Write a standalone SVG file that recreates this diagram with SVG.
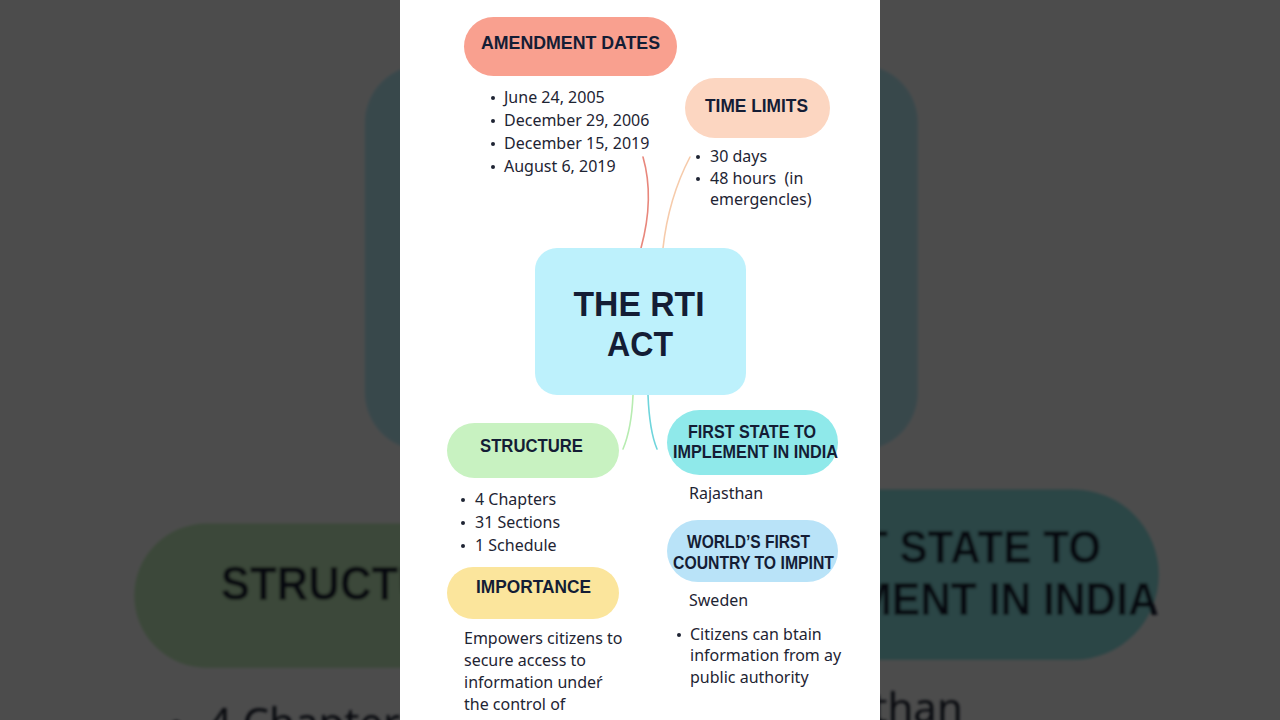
<svg xmlns="http://www.w3.org/2000/svg" xmlns:xlink="http://www.w3.org/1999/xlink" width="1280" height="720" viewBox="0 0 1280 720">
  <defs>
    <style>
      .ttl { font-family: "Liberation Sans", Arial, sans-serif; font-weight: 700; fill: #141d35; text-anchor: middle; }
      .t18 { font-size: 18.5px; }
      .t17 { font-size: 17.5px; }
      .big { font-size: 35.5px; }
      .body { font-family: "Noto Sans", "Liberation Sans", sans-serif; font-size: 16px; fill: #1e2433; }
      .dot { fill: #1e2433; }
      .con { fill: none; stroke-width: 1.6; stroke-linecap: round; }
    </style>
    <filter id="soft" x="-10%" y="-10%" width="120%" height="120%">
      <feGaussianBlur stdDeviation="0.7"/>
    </filter>
  </defs>

  <!-- blurred, dimmed enlarged backdrop -->
  <rect x="0" y="0" width="1280" height="720" fill="#ffffff"/>
  <use xlink:href="#diagram" href="#diagram" transform="translate(-1036.8,-584.7) scale(2.62)" filter="url(#soft)"/>
  <rect x="0" y="0" width="1280" height="720" fill="#000000" opacity="0.7"/>

  <!-- panel -->
  <rect x="400" y="0" width="480" height="720" fill="#ffffff"/>

  <g id="diagram">
    <g id="connectors">
      <path class="con" d="M643,157 C651,185 650,215 641,248" stroke="#e8877c"/>
      <path class="con" d="M690,157 C678,180 667,212 663,248" stroke="#f6cbab"/>
      <path class="con" d="M633,395 C632,420 628,437 623,449" stroke="#b7ecb1"/>
      <path class="con" d="M648,395 C649,420 652,437 657,449" stroke="#6fd5dc"/>
    </g>

    <g id="node-center">
      <rect x="535" y="248" width="211" height="147" rx="22" fill="#bdf1fc"/>
      <text class="ttl big" x="639" y="316" textLength="131" lengthAdjust="spacingAndGlyphs">THE RTI</text>
      <text class="ttl big" x="640" y="356" textLength="66" lengthAdjust="spacingAndGlyphs">ACT</text>
    </g>

    <g id="node-amendment">
      <rect x="464" y="17" width="213" height="59" rx="29.5" fill="#f9a08f"/>
      <text class="ttl t18" x="570.5" y="48.5" textLength="179" lengthAdjust="spacingAndGlyphs">AMENDMENT DATES</text>
      <circle class="dot" cx="493" cy="98" r="2"/>
      <circle class="dot" cx="493" cy="121" r="2"/>
      <circle class="dot" cx="493" cy="144" r="2"/>
      <circle class="dot" cx="493" cy="167" r="2"/>
      <text class="body" x="504" y="103">June 24, 2005</text>
      <text class="body" x="504" y="126">December 29, 2006</text>
      <text class="body" x="504" y="149">December 15, 2019</text>
      <text class="body" x="504" y="172">August 6, 2019</text>
    </g>

    <g id="node-timelimits">
      <rect x="685" y="78" width="145" height="60" rx="30" fill="#fcd6c1"/>
      <text class="ttl t18" x="756.5" y="112" textLength="103" lengthAdjust="spacingAndGlyphs">TIME LIMITS</text>
      <circle class="dot" cx="698" cy="157" r="2"/>
      <circle class="dot" cx="698" cy="179" r="2"/>
      <text class="body" x="710" y="162">30 days</text>
      <text class="body" x="710" y="184" xml:space="preserve">48 hours  (in</text>
      <text class="body" x="710" y="205">emergencles)</text>
    </g>

    <g id="node-structure">
      <rect x="447" y="423" width="172" height="55" rx="27.5" fill="#c8f2c1"/>
      <text class="ttl t18" x="531.5" y="452" textLength="103" lengthAdjust="spacingAndGlyphs">STRUCTURE</text>
      <circle class="dot" cx="463" cy="500" r="2"/>
      <circle class="dot" cx="463" cy="523" r="2"/>
      <circle class="dot" cx="463" cy="546" r="2"/>
      <text class="body" x="475" y="505">4 Chapters</text>
      <text class="body" x="475" y="528">31 Sections</text>
      <text class="body" x="475" y="551">1 Schedule</text>
    </g>

    <g id="node-firststate">
      <rect x="667" y="410" width="171" height="65" rx="32.5" fill="#8fe9ea"/>
      <text class="ttl t17" x="752" y="438" textLength="128" lengthAdjust="spacingAndGlyphs">FIRST STATE TO</text>
      <text class="ttl t17" x="755.5" y="458" textLength="165" lengthAdjust="spacingAndGlyphs">IMPLEMENT IN INDIA</text>
      <text class="body" x="689" y="499">Rajasthan</text>
    </g>

    <g id="node-worldsfirst">
      <rect x="667" y="520" width="171" height="62" rx="31" fill="#b9e3f8"/>
      <text class="ttl t17" x="748.5" y="548" textLength="123" lengthAdjust="spacingAndGlyphs">WORLD’S FIRST</text>
      <text class="ttl t17" x="753.5" y="569" textLength="161" lengthAdjust="spacingAndGlyphs">COUNTRY TO IMPINT</text>
      <text class="body" x="689" y="606">Sweden</text>
      <circle class="dot" cx="679" cy="635" r="2"/>
      <text class="body" x="690" y="640">Citizens can btain</text>
      <text class="body" x="690" y="661">information from ay</text>
      <text class="body" x="690" y="683">public authority</text>
    </g>

    <g id="node-importance">
      <rect x="447" y="567" width="172" height="52" rx="26" fill="#fbe59c"/>
      <text class="ttl t18" x="533.5" y="593" textLength="115" lengthAdjust="spacingAndGlyphs">IMPORTANCE</text>
      <text class="body" x="464" y="644">Empowers citizens to</text>
      <text class="body" x="464" y="666">secure access to</text>
      <text class="body" x="464" y="688">information undeŕ</text>
      <text class="body" x="464" y="710">the control of</text>
    </g>
  </g>
</svg>
